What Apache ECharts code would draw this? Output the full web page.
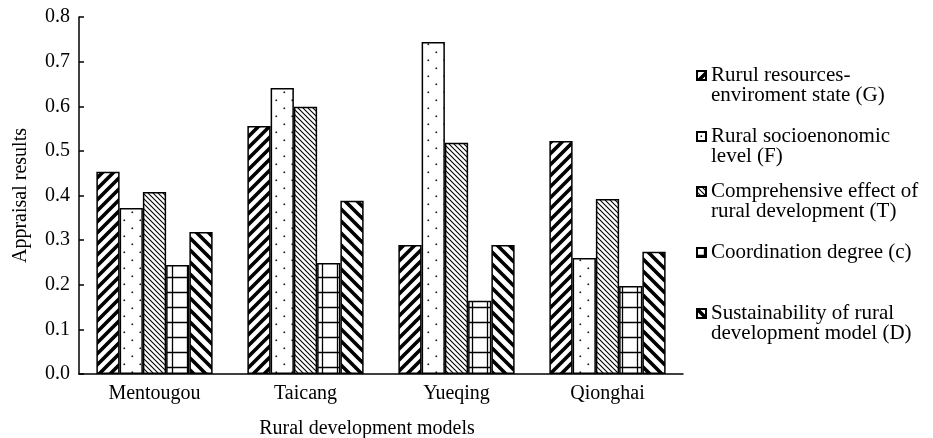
<!DOCTYPE html>
<html>
<head>
<meta charset="utf-8">
<script src="https://cdn.jsdelivr.net/npm/echarts@6/dist/echarts.min.js"></script>
<style>
  html, body { margin: 0; padding: 0; background: #fff; }
  #chart { width: 933px; height: 438px; }
</style>
</head>
<body>
<div id="chart"></div>
<script>
// data
var categories = ['Mentougou', 'Taicang', 'Yueqing', 'Qionghai']
var seriesNames = [
  'Rurul resources-\nenviroment state (G)',
  'Rural socioenonomic\nlevel (F)',
  'Comprehensive effect of\nrural development (T)',
  'Coordination degree (c)',
  'Sustainability of rural\ndevelopment model (D)'
]
var valG = [0.453, 0.556, 0.289, 0.522]
var valF = [0.372, 0.641, 0.744, 0.260]
var valT = [0.408, 0.599, 0.518, 0.392]
var valC = [0.244, 0.249, 0.164, 0.197]
var valD = [0.318, 0.388, 0.289, 0.274]
var yTicks = [0, 0.1, 0.2, 0.3, 0.4, 0.5, 0.6, 0.7, 0.8]

var FONT = 'Liberation Serif'

// hatch fills drawn on small canvases
function makePattern(size, draw) {
  var c = document.createElement('canvas')
  c.width = size
  c.height = size
  var ctx = c.getContext('2d')
  ctx.fillStyle = '#fff'
  ctx.fillRect(0, 0, size, size)
  ctx.strokeStyle = '#000'
  ctx.fillStyle = '#000'
  draw(ctx, size)
  return { image: c, repeat: 'repeat' }
}
function slash(ctx, s, w) {
  ctx.lineWidth = w
  ctx.beginPath()
  ctx.moveTo(0, s); ctx.lineTo(s, 0)
  ctx.moveTo(-s / 2, s / 2); ctx.lineTo(s / 2, -s / 2)
  ctx.moveTo(s / 2, s * 1.5); ctx.lineTo(s * 1.5, s / 2)
  ctx.stroke()
}
function backslash(ctx, s, w) {
  ctx.lineWidth = w
  ctx.beginPath()
  ctx.moveTo(0, 0); ctx.lineTo(s, s)
  ctx.moveTo(-s / 2, s / 2); ctx.lineTo(s / 2, s * 1.5)
  ctx.moveTo(s / 2, -s / 2); ctx.lineTo(s * 1.5, s / 2)
  ctx.stroke()
}

var patterns = [
  makePattern(11, function (ctx, s) { slash(ctx, s, 3.6) }),
  makePattern(16, function (ctx, s) {
    ctx.fillStyle = '#111'
    ctx.fillRect(3.5, 3.5, 1.6, 1.6)
    ctx.fillRect(11.5, 11.5, 1.6, 1.6)
  }),
  makePattern(5, function (ctx, s) { backslash(ctx, s, 1.1) }),
  makePattern(15, function (ctx, s) {
    ctx.lineWidth = 1.3
    ctx.beginPath()
    ctx.moveTo(0, 7.5); ctx.lineTo(s, 7.5)
    ctx.moveTo(7.5, 0); ctx.lineTo(7.5, s)
    ctx.stroke()
  }),
  makePattern(12, function (ctx, s) { backslash(ctx, s, 3.6) })
]
var values = [valG, valF, valT, valC, valD]

var series = []
for (var i = 0; i < values.length; i++) {
  series.push({
    name: seriesNames[i],
    type: 'bar',
    data: values[i],
    barGap: '0%',
    barCategoryGap: '23%',
    itemStyle: {
      color: patterns[i],
      borderColor: '#000',
      borderWidth: 1.5
    },
    animation: false
  })
}

// one legend block per item so the uneven spacing can be kept;
// two-line items use a tall icon path whose square sits at the top,
// so the square lines up with the first text line
var legendLine1 = [75, 136, 191, 252, 313]
var tallIcon = 'path://M0,0L9,0L9,9L0,9Z M0,29L0,29'
var legends = []
for (var j = 0; j < seriesNames.length; j++) {
  var twoLines = seriesNames[j].indexOf('\n') >= 0
  legends.push({
    data: [seriesNames[j]],
    left: 696,
    top: legendLine1[j] - 10,
    padding: 0,
    icon: twoLines ? tallIcon : 'rect',
    itemWidth: 9,
    itemHeight: twoLines ? 29 : 9,
    selectedMode: false,
    textStyle: {
      fontFamily: FONT,
      fontSize: 21,
      lineHeight: 20,
      color: '#000'
    }
  })
}

var chart = echarts.init(document.getElementById('chart'))
chart.setOption({
  backgroundColor: '#fff',
  animation: false,
  grid: {
    left: 79,
    right: 250,
    top: 17,
    bottom: 64,
    outerBoundsMode: 'none'
  },
  legend: legends,
  xAxis: {
    type: 'category',
    data: categories,
    name: 'Rural development models',
    nameLocation: 'middle',
    nameGap: 45,
    nameTextStyle: { fontFamily: FONT, fontSize: 20, color: '#000', padding: [0, 28, 0, 0] },
    axisLine: { lineStyle: { color: '#000', width: 1.5 } },
    axisTick: { inside: true, length: 5, lineStyle: { color: '#000', width: 1.5 } },
    axisLabel: { fontFamily: FONT, fontSize: 20, color: '#000', margin: 10 }
  },
  yAxis: {
    type: 'value',
    min: yTicks[0],
    max: yTicks[yTicks.length - 1],
    interval: 0.1,
    name: 'Appraisal results',
    nameLocation: 'middle',
    nameGap: 48,
    nameTextStyle: { fontFamily: FONT, fontSize: 20, color: '#000' },
    axisLine: { show: true, lineStyle: { color: '#000', width: 1.5 } },
    axisTick: { show: true, inside: true, length: 5, lineStyle: { color: '#000', width: 1.5 } },
    axisLabel: {
      fontFamily: FONT,
      fontSize: 20,
      color: '#000',
      margin: 9,
      formatter: function (v) { return v.toFixed(1) }
    },
    splitLine: { show: false }
  },
  series: series
})
</script>
</body>
</html>
